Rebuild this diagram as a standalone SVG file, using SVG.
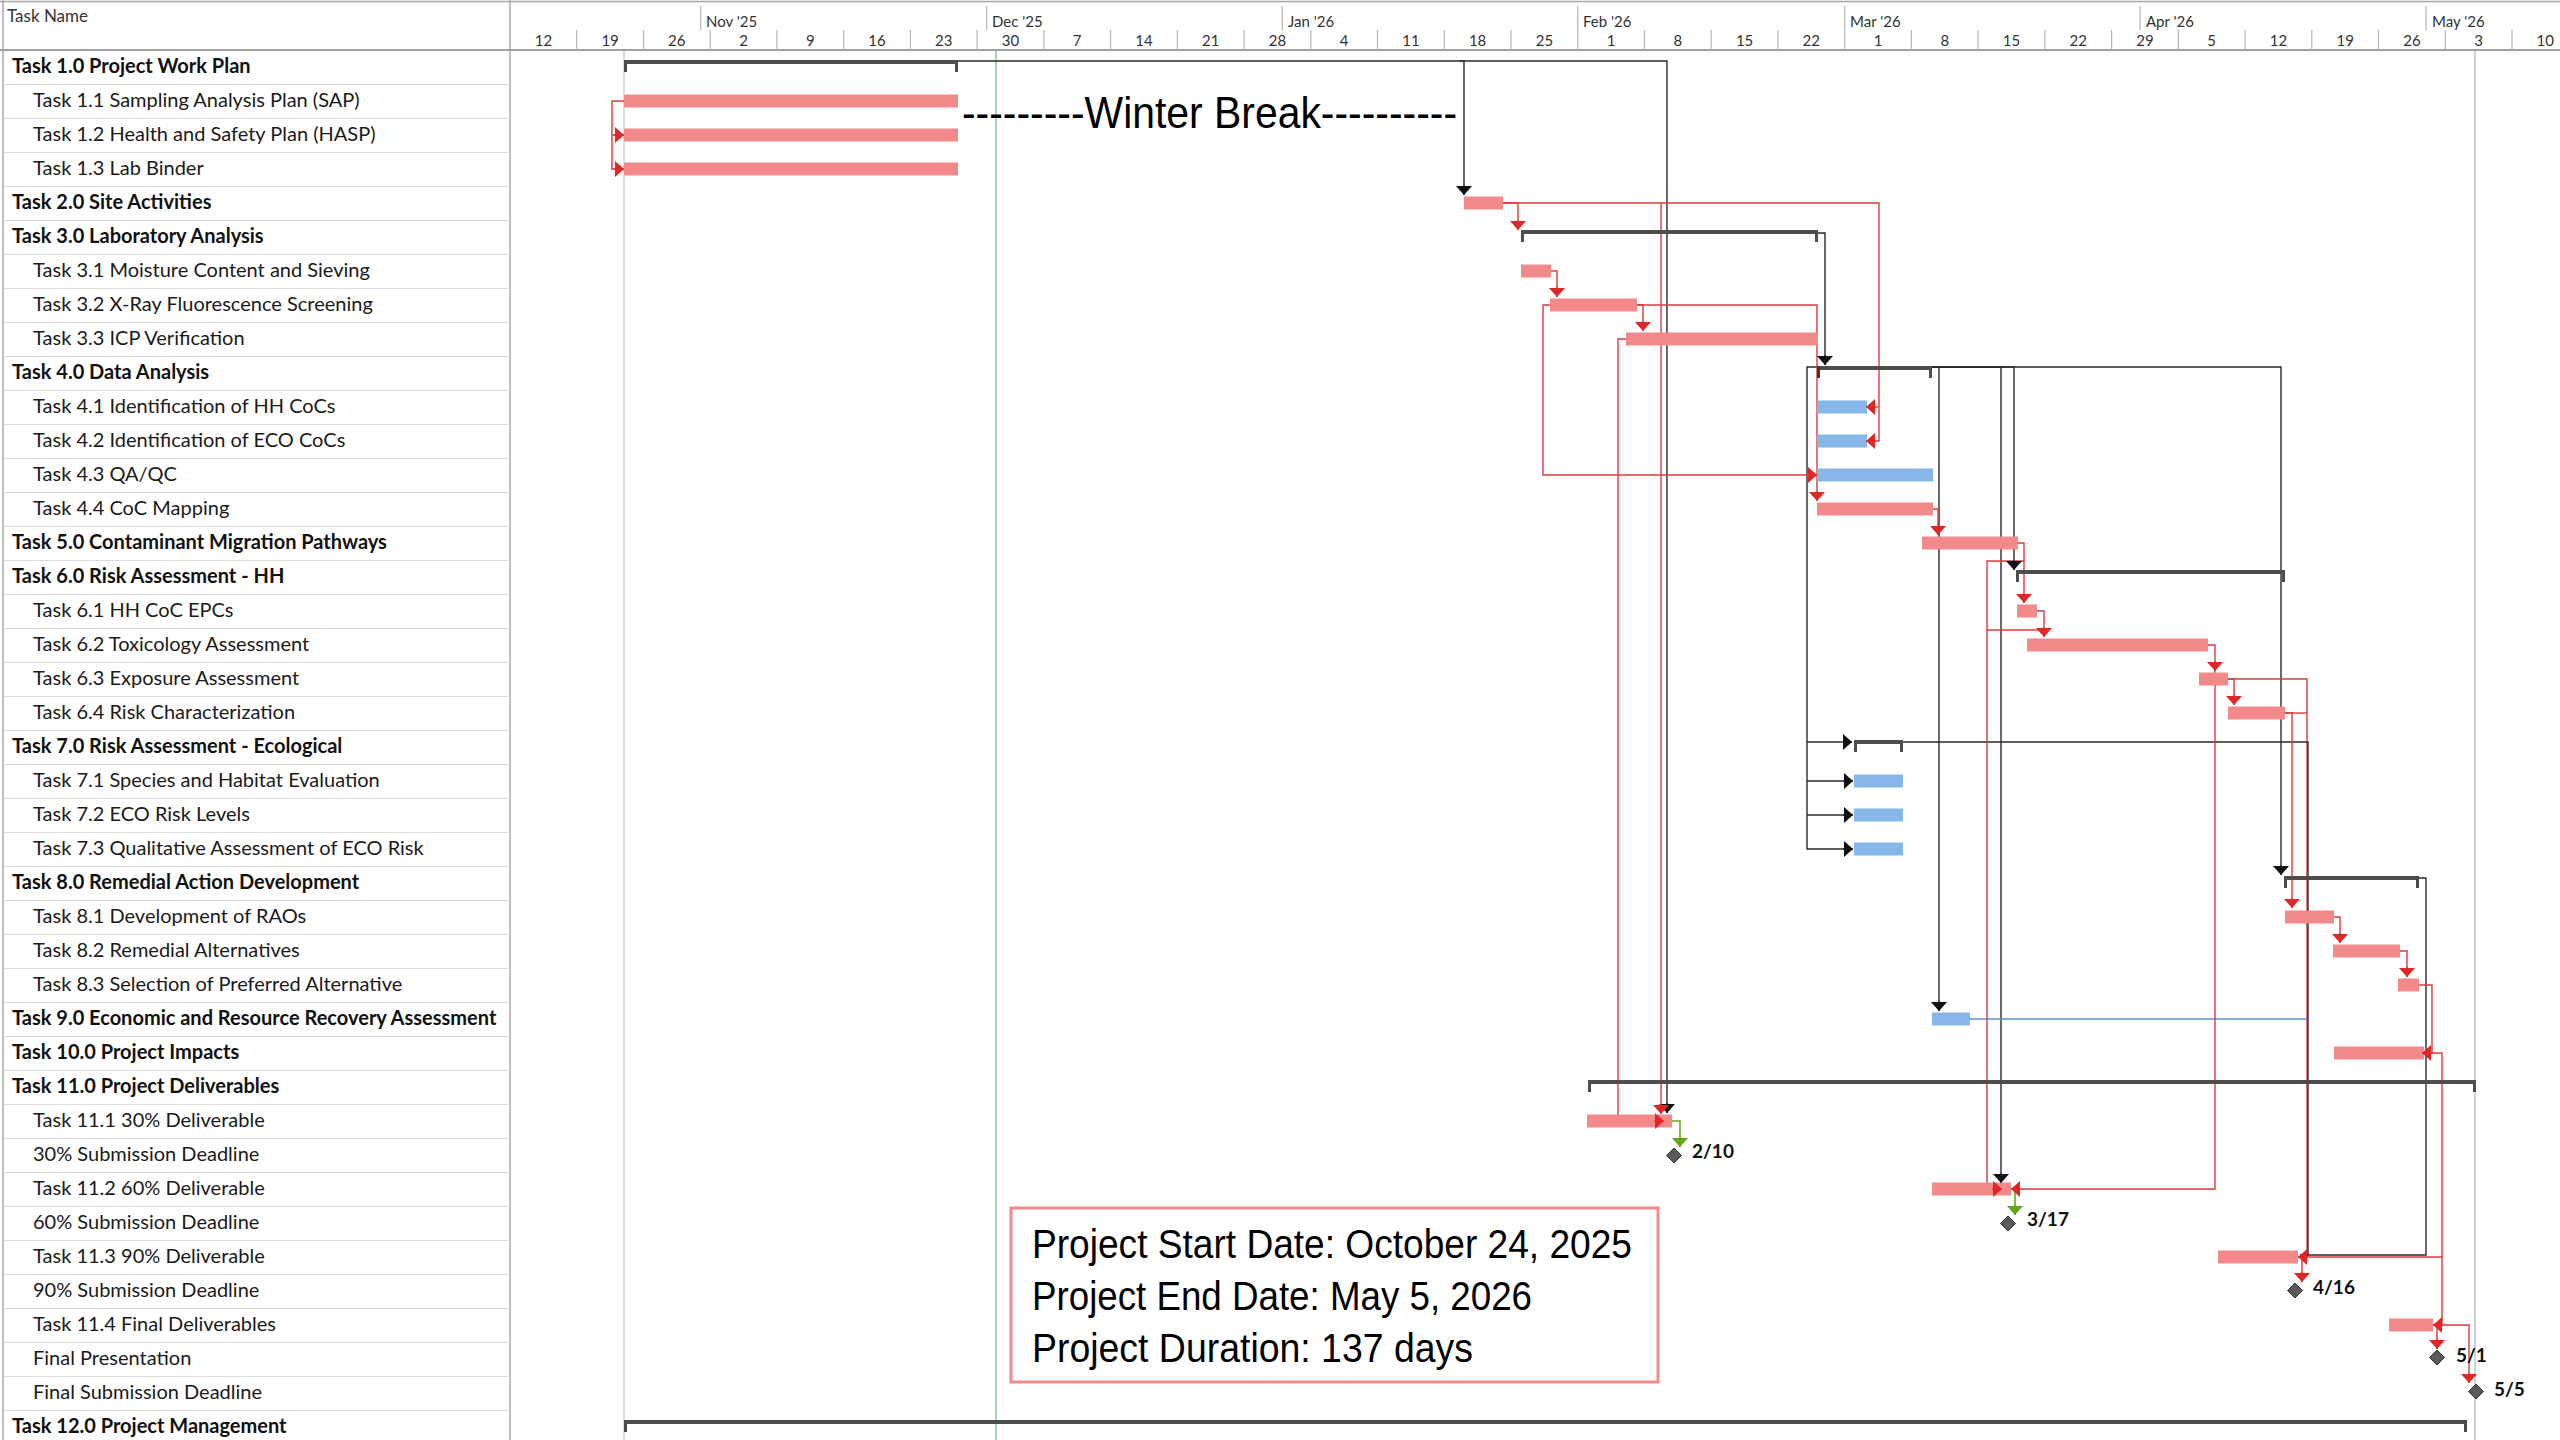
<svg xmlns="http://www.w3.org/2000/svg" width="2560" height="1440" viewBox="0 0 2560 1440">
<style>
.tn{font-family:Lato,"Noto Sans","Liberation Sans",sans-serif;font-size:20px;fill:#1a1a1a}
.tb{font-family:Lato,"Noto Sans","Liberation Sans",sans-serif;font-size:20px;font-weight:bold;fill:#111}
.hd{font-family:Lato,"Noto Sans","Liberation Sans",sans-serif;font-size:15px;fill:#333}
.th{font-family:Lato,"Noto Sans","Liberation Sans",sans-serif;font-size:17px;fill:#333}
.wk{font-family:Lato,"Noto Sans","Liberation Sans",sans-serif;font-size:15px;fill:#333;text-anchor:middle}
.ml{font-family:Lato,"Noto Sans","Liberation Sans",sans-serif;font-size:19px;font-weight:bold;fill:#111}
.big{font-family:"Liberation Sans",Arial,sans-serif;fill:#000}
.red{fill:#f28a8c}
.blue{fill:#87b6e8}
.sum{fill:#4d4d4d}
.dia{fill:#5a5a5a;stroke:#333;stroke-width:1}
.row{stroke:#dadada;stroke-width:1.2}
.tick{stroke:#b5b5b5;stroke-width:1.2}
.lr{stroke:#d83c3c;stroke-width:1.4;fill:none}
.lk{stroke:#2b2b2b;stroke-width:1.4;fill:none}
.lb{stroke:#5d8fd0;stroke-width:1.4;fill:none}
.lg{stroke:#6aaa1e;stroke-width:1.6;fill:none}
.ar{marker-end:url(#mR)}
.ak{marker-end:url(#mK)}
.ag{marker-end:url(#mG)}
</style>
<defs>
<marker id="mR" viewBox="0 0 10 10" refX="10" refY="5" markerWidth="9" markerHeight="16" markerUnits="userSpaceOnUse" orient="auto" preserveAspectRatio="none"><path d="M0,0 L10,5 L0,10 z" fill="#e02626"/></marker>
<marker id="mK" viewBox="0 0 10 10" refX="10" refY="5" markerWidth="9" markerHeight="16" markerUnits="userSpaceOnUse" orient="auto" preserveAspectRatio="none"><path d="M0,0 L10,5 L0,10 z" fill="#111"/></marker>
<marker id="mG" viewBox="0 0 10 10" refX="10" refY="5" markerWidth="9" markerHeight="16" markerUnits="userSpaceOnUse" orient="auto" preserveAspectRatio="none"><path d="M0,0 L10,5 L0,10 z" fill="#5fa816"/></marker>
</defs>
<rect x="0" y="0" width="2560" height="1440" fill="#fff"/>

<g id="table-frame">
<line x1="0" y1="1.5" x2="2560" y2="1.5" stroke="#a8a8a8" stroke-width="1.5"/>
<line x1="3" y1="0" x2="3" y2="1440" stroke="#a8a8a8" stroke-width="1.5"/>
<line x1="510" y1="0" x2="510" y2="1440" stroke="#a8a8a8" stroke-width="1.5"/>
<line x1="0" y1="50" x2="2560" y2="50" stroke="#a0a0a0" stroke-width="2"/>
<text class="th" x="7" y="22">Task Name</text>
<g id="row-lines">
<line class="row" x1="3" y1="84.5" x2="510" y2="84.5"/><line class="row" x1="3" y1="118.5" x2="510" y2="118.5"/><line class="row" x1="3" y1="152.5" x2="510" y2="152.5"/><line class="row" x1="3" y1="186.5" x2="510" y2="186.5"/><line class="row" x1="3" y1="220.5" x2="510" y2="220.5"/><line class="row" x1="3" y1="254.5" x2="510" y2="254.5"/><line class="row" x1="3" y1="288.5" x2="510" y2="288.5"/><line class="row" x1="3" y1="322.5" x2="510" y2="322.5"/><line class="row" x1="3" y1="356.5" x2="510" y2="356.5"/><line class="row" x1="3" y1="390.5" x2="510" y2="390.5"/><line class="row" x1="3" y1="424.5" x2="510" y2="424.5"/><line class="row" x1="3" y1="458.5" x2="510" y2="458.5"/><line class="row" x1="3" y1="492.5" x2="510" y2="492.5"/><line class="row" x1="3" y1="526.5" x2="510" y2="526.5"/><line class="row" x1="3" y1="560.5" x2="510" y2="560.5"/><line class="row" x1="3" y1="594.5" x2="510" y2="594.5"/><line class="row" x1="3" y1="628.5" x2="510" y2="628.5"/><line class="row" x1="3" y1="662.5" x2="510" y2="662.5"/><line class="row" x1="3" y1="696.5" x2="510" y2="696.5"/><line class="row" x1="3" y1="730.5" x2="510" y2="730.5"/><line class="row" x1="3" y1="764.5" x2="510" y2="764.5"/><line class="row" x1="3" y1="798.5" x2="510" y2="798.5"/><line class="row" x1="3" y1="832.5" x2="510" y2="832.5"/><line class="row" x1="3" y1="866.5" x2="510" y2="866.5"/><line class="row" x1="3" y1="900.5" x2="510" y2="900.5"/><line class="row" x1="3" y1="934.5" x2="510" y2="934.5"/><line class="row" x1="3" y1="968.5" x2="510" y2="968.5"/><line class="row" x1="3" y1="1002.5" x2="510" y2="1002.5"/><line class="row" x1="3" y1="1036.5" x2="510" y2="1036.5"/><line class="row" x1="3" y1="1070.5" x2="510" y2="1070.5"/><line class="row" x1="3" y1="1104.5" x2="510" y2="1104.5"/><line class="row" x1="3" y1="1138.5" x2="510" y2="1138.5"/><line class="row" x1="3" y1="1172.5" x2="510" y2="1172.5"/><line class="row" x1="3" y1="1206.5" x2="510" y2="1206.5"/><line class="row" x1="3" y1="1240.5" x2="510" y2="1240.5"/><line class="row" x1="3" y1="1274.5" x2="510" y2="1274.5"/><line class="row" x1="3" y1="1308.5" x2="510" y2="1308.5"/><line class="row" x1="3" y1="1342.5" x2="510" y2="1342.5"/><line class="row" x1="3" y1="1376.5" x2="510" y2="1376.5"/><line class="row" x1="3" y1="1410.5" x2="510" y2="1410.5"/>
</g>
</g>

<g id="timescale">
<g id="month-ticks">
<line class="tick" x1="700.7" y1="6" x2="700.7" y2="30"/><line class="tick" x1="986.7" y1="6" x2="986.7" y2="30"/><line class="tick" x1="1282.2" y1="6" x2="1282.2" y2="30"/><line class="tick" x1="1577.7" y1="6" x2="1577.7" y2="30"/><line class="tick" x1="1844.7" y1="6" x2="1844.7" y2="30"/><line class="tick" x1="2140.1" y1="6" x2="2140.1" y2="30"/><line class="tick" x1="2426.1" y1="6" x2="2426.1" y2="30"/>
</g>
<text class="hd" x="706" y="27">Nov '25</text>
<text class="hd" x="992" y="27">Dec '25</text>
<text class="hd" x="1288" y="27">Jan '26</text>
<text class="hd" x="1583" y="27">Feb '26</text>
<text class="hd" x="1850" y="27">Mar '26</text>
<text class="hd" x="2146" y="27">Apr '26</text>
<text class="hd" x="2432" y="27">May '26</text>
<g id="week-ticks">
<line class="tick" x1="576.7" y1="30" x2="576.7" y2="50"/><line class="tick" x1="643.5" y1="30" x2="643.5" y2="50"/><line class="tick" x1="710.2" y1="30" x2="710.2" y2="50"/><line class="tick" x1="776.9" y1="30" x2="776.9" y2="50"/><line class="tick" x1="843.7" y1="30" x2="843.7" y2="50"/><line class="tick" x1="910.4" y1="30" x2="910.4" y2="50"/><line class="tick" x1="977.1" y1="30" x2="977.1" y2="50"/><line class="tick" x1="1043.9" y1="30" x2="1043.9" y2="50"/><line class="tick" x1="1110.6" y1="30" x2="1110.6" y2="50"/><line class="tick" x1="1177.3" y1="30" x2="1177.3" y2="50"/><line class="tick" x1="1244.1" y1="30" x2="1244.1" y2="50"/><line class="tick" x1="1310.8" y1="30" x2="1310.8" y2="50"/><line class="tick" x1="1377.5" y1="30" x2="1377.5" y2="50"/><line class="tick" x1="1444.3" y1="30" x2="1444.3" y2="50"/><line class="tick" x1="1511" y1="30" x2="1511" y2="50"/><line class="tick" x1="1577.7" y1="30" x2="1577.7" y2="50"/><line class="tick" x1="1644.5" y1="30" x2="1644.5" y2="50"/><line class="tick" x1="1711.2" y1="30" x2="1711.2" y2="50"/><line class="tick" x1="1777.9" y1="30" x2="1777.9" y2="50"/><line class="tick" x1="1844.7" y1="30" x2="1844.7" y2="50"/><line class="tick" x1="1911.4" y1="30" x2="1911.4" y2="50"/><line class="tick" x1="1978.1" y1="30" x2="1978.1" y2="50"/><line class="tick" x1="2044.9" y1="30" x2="2044.9" y2="50"/><line class="tick" x1="2111.6" y1="30" x2="2111.6" y2="50"/><line class="tick" x1="2178.3" y1="30" x2="2178.3" y2="50"/><line class="tick" x1="2245.1" y1="30" x2="2245.1" y2="50"/><line class="tick" x1="2311.8" y1="30" x2="2311.8" y2="50"/><line class="tick" x1="2378.5" y1="30" x2="2378.5" y2="50"/><line class="tick" x1="2445.3" y1="30" x2="2445.3" y2="50"/><line class="tick" x1="2512" y1="30" x2="2512" y2="50"/>
</g>
<g id="week-labels">
<text class="wk" x="543.4" y="46">12</text><text class="wk" x="610.1" y="46">19</text><text class="wk" x="676.8" y="46">26</text><text class="wk" x="743.6" y="46">2</text><text class="wk" x="810.3" y="46">9</text><text class="wk" x="877" y="46">16</text><text class="wk" x="943.8" y="46">23</text><text class="wk" x="1010.5" y="46">30</text><text class="wk" x="1077.2" y="46">7</text><text class="wk" x="1144" y="46">14</text><text class="wk" x="1210.7" y="46">21</text><text class="wk" x="1277.4" y="46">28</text><text class="wk" x="1344.2" y="46">4</text><text class="wk" x="1410.9" y="46">11</text><text class="wk" x="1477.6" y="46">18</text><text class="wk" x="1544.4" y="46">25</text><text class="wk" x="1611.1" y="46">1</text><text class="wk" x="1677.8" y="46">8</text><text class="wk" x="1744.6" y="46">15</text><text class="wk" x="1811.3" y="46">22</text><text class="wk" x="1878" y="46">1</text><text class="wk" x="1944.8" y="46">8</text><text class="wk" x="2011.5" y="46">15</text><text class="wk" x="2078.2" y="46">22</text><text class="wk" x="2145" y="46">29</text><text class="wk" x="2211.7" y="46">5</text><text class="wk" x="2278.4" y="46">12</text><text class="wk" x="2345.2" y="46">19</text><text class="wk" x="2411.9" y="46">26</text><text class="wk" x="2478.6" y="46">3</text><text class="wk" x="2545.3" y="46">10</text>
</g>
</g>

<g id="date-lines">
<line x1="624" y1="51" x2="624" y2="1440" stroke="#c9c9c9" stroke-width="1.3"/>
<line x1="996" y1="51" x2="996" y2="1440" stroke="#8cc58c" stroke-width="1.5"/>
<line x1="2475" y1="51" x2="2475" y2="1440" stroke="#b9b9b9" stroke-width="1.3"/>
</g>

<text id="winter-break" class="big" x="962" y="128" font-size="44" textLength="495" lengthAdjust="spacingAndGlyphs">---------Winter Break----------</text>

<g id="connectors">
<path class="lr" d="M1661,203 V1113"/>
<path class="lk" d="M958,61 H1464 V195"/>
<path class="lk" d="M1460,61 H1667 V1113"/>
<path class="lk" d="M1818,233 H1825 V365"/>
<path class="lk" d="M1817,367 H1807 V849 H1853"/>
<path class="lk" d="M1807,742 H1852"/>
<path class="lk" d="M1807,781 H1853"/>
<path class="lk" d="M1807,815 H1853"/>
<path class="lk" d="M1932,367 H1939 V1011"/>
<path class="lk" d="M1932,367 H2001 V1183"/>
<path class="lk" d="M1932,367 H2014 V570"/>
<path class="lk" d="M1932,367 H2281 V875"/>
<path class="lr" d="M2228,679 H2307 V1257"/>
<path class="lr" d="M2285,713 H2307"/>
<path class="lb" d="M1970,1019 H2307"/>
<path class="lk" d="M1903,742 H2308 V1255 H2300"/>
<path class="lk" d="M2419,878 H2426 V1255 H2308"/>
<path class="lr" d="M624,101 H612 V169 H624"/>
<path class="lr" d="M612,135 H624"/>
<path class="lr" d="M1503,203 H1518 V230"/>
<path class="lr" d="M1503,203 H1879 V441 H1866"/>
<path class="lr" d="M1879,407 H1866"/>
<path class="lr" d="M1551,271 H1557 V297"/>
<path class="lr" d="M1637,305 H1643 V331"/>
<path class="lr" d="M1637,305 H1817 V501"/>
<path class="lr" d="M1550,305 H1543 V475 H1817"/>
<path class="lr" d="M1626,339 H1618 V1121 H1664"/>
<path class="lr" d="M1933,509 H1938 V535"/>
<path class="lr" d="M2018,543 H2024 V603"/>
<path class="lr" d="M2024,561 H1987 V1189 H2002"/>
<path class="lr" d="M2037,611 H2044 V637"/>
<path class="lr" d="M2044,630 H1987"/>
<path class="lr" d="M2208,645 H2215 V671"/>
<path class="lr" d="M2215,671 V1189 H2011"/>
<path class="lr" d="M2228,679 H2234 V705"/>
<path class="lr" d="M2285,713 H2292 V908"/>
<path class="lr" d="M2334,917 H2340 V943"/>
<path class="lr" d="M2400,951 H2407 V977"/>
<path class="lr" d="M2419,985 H2432 V1053 H2424"/>
<path class="lr" d="M2424,1053 H2442 V1325 H2433"/>
<path class="lr" d="M2442,1257 H2298"/>
<path class="lr" d="M2298,1257 H2302 V1282"/>
<path class="lr" d="M2433,1325 H2437 V1349"/>
<path class="lr" d="M2437,1325 H2469 V1383"/>
<path class="lg" d="M1672,1121 H1680 V1147"/>
<path class="lg" d="M2011,1189 H2015 V1215"/>
</g>

<g id="task-1-0"><text class="tb" x="12" y="73">Task 1.0 Project Work Plan</text><rect class="sum" x="624" y="60" width="334" height="4"/><rect class="sum" x="624" y="60" width="3" height="12"/><rect class="sum" x="955" y="60" width="3" height="12"/></g>
<g id="task-1-1"><text class="tn" x="33" y="107">Task 1.1 Sampling Analysis Plan (SAP)</text><rect class="red" x="624" y="94.5" width="334" height="13"/></g>
<g id="task-1-2"><text class="tn" x="33" y="141">Task 1.2 Health and Safety Plan (HASP)</text><rect class="red" x="624" y="128.5" width="334" height="13"/></g>
<g id="task-1-3"><text class="tn" x="33" y="175">Task 1.3 Lab Binder</text><rect class="red" x="624" y="162.5" width="334" height="13"/></g>
<g id="task-2-0"><text class="tb" x="12" y="209">Task 2.0 Site Activities</text><rect class="red" x="1464" y="196.5" width="39" height="13"/></g>
<g id="task-3-0"><text class="tb" x="12" y="243">Task 3.0 Laboratory Analysis</text><rect class="sum" x="1521" y="230" width="297" height="4"/><rect class="sum" x="1521" y="230" width="3" height="12"/><rect class="sum" x="1815" y="230" width="3" height="12"/></g>
<g id="task-3-1"><text class="tn" x="33" y="277">Task 3.1 Moisture Content and Sieving</text><rect class="red" x="1521" y="264.5" width="30" height="13"/></g>
<g id="task-3-2"><text class="tn" x="33" y="311">Task 3.2 X-Ray Fluorescence Screening</text><rect class="red" x="1550" y="298.5" width="87" height="13"/></g>
<g id="task-3-3"><text class="tn" x="33" y="345">Task 3.3 ICP Verification</text><rect class="red" x="1626" y="332.5" width="192" height="13"/></g>
<g id="task-4-0"><text class="tb" x="12" y="379">Task 4.0 Data Analysis</text><rect class="sum" x="1817" y="366" width="115" height="4"/><rect fill="#5a2a2a" x="1817" y="366" width="3" height="12"/><rect class="sum" x="1929" y="366" width="3" height="12"/></g>
<g id="task-4-1"><text class="tn" x="33" y="413">Task 4.1 Identification of HH CoCs</text><rect class="blue" x="1817" y="400.5" width="50" height="13"/></g>
<g id="task-4-2"><text class="tn" x="33" y="447">Task 4.2 Identification of ECO CoCs</text><rect class="blue" x="1817" y="434.5" width="50" height="13"/></g>
<g id="task-4-3"><text class="tn" x="33" y="481">Task 4.3 QA/QC</text><rect class="blue" x="1817" y="468.5" width="116" height="13"/></g>
<g id="task-4-4"><text class="tn" x="33" y="515">Task 4.4 CoC Mapping</text><rect class="red" x="1817" y="502.5" width="116" height="13"/></g>
<g id="task-5-0"><text class="tb" x="12" y="549">Task 5.0 Contaminant Migration Pathways</text><rect class="red" x="1922" y="536.5" width="96" height="13"/></g>
<g id="task-6-0"><text class="tb" x="12" y="583">Task 6.0 Risk Assessment - HH</text><rect class="sum" x="2016" y="570" width="269" height="4"/><rect class="sum" x="2016" y="570" width="3" height="12"/><rect class="sum" x="2282" y="570" width="3" height="12"/></g>
<g id="task-6-1"><text class="tn" x="33" y="617">Task 6.1 HH CoC EPCs</text><rect class="red" x="2017" y="604.5" width="20" height="13"/></g>
<g id="task-6-2"><text class="tn" x="33" y="651">Task 6.2 Toxicology Assessment</text><rect class="red" x="2027" y="638.5" width="181" height="13"/></g>
<g id="task-6-3"><text class="tn" x="33" y="685">Task 6.3 Exposure Assessment</text><rect class="red" x="2199" y="672.5" width="29" height="13"/></g>
<g id="task-6-4"><text class="tn" x="33" y="719">Task 6.4 Risk Characterization</text><rect class="red" x="2228" y="706.5" width="57" height="13"/></g>
<g id="task-7-0"><text class="tb" x="12" y="753">Task 7.0 Risk Assessment - Ecological</text><rect class="sum" x="1854" y="740" width="49" height="4"/><rect class="sum" x="1854" y="740" width="3" height="12"/><rect class="sum" x="1900" y="740" width="3" height="12"/></g>
<g id="task-7-1"><text class="tn" x="33" y="787">Task 7.1 Species and Habitat Evaluation</text><rect class="blue" x="1854" y="774.5" width="49" height="13"/></g>
<g id="task-7-2"><text class="tn" x="33" y="821">Task 7.2 ECO Risk Levels</text><rect class="blue" x="1854" y="808.5" width="49" height="13"/></g>
<g id="task-7-3"><text class="tn" x="33" y="855">Task 7.3 Qualitative Assessment of ECO Risk</text><rect class="blue" x="1854" y="842.5" width="49" height="13"/></g>
<g id="task-8-0"><text class="tb" x="12" y="889">Task 8.0 Remedial Action Development</text><rect class="sum" x="2284" y="876" width="135" height="4"/><rect class="sum" x="2284" y="876" width="3" height="12"/><rect class="sum" x="2416" y="876" width="3" height="12"/></g>
<g id="task-8-1"><text class="tn" x="33" y="923">Task 8.1 Development of RAOs</text><rect class="red" x="2285" y="910.5" width="49" height="13"/></g>
<g id="task-8-2"><text class="tn" x="33" y="957">Task 8.2 Remedial Alternatives</text><rect class="red" x="2333" y="944.5" width="67" height="13"/></g>
<g id="task-8-3"><text class="tn" x="33" y="991">Task 8.3 Selection of Preferred Alternative</text><rect class="red" x="2398" y="978.5" width="21" height="13"/></g>
<g id="task-9-0"><text class="tb" x="12" y="1025">Task 9.0 Economic and Resource Recovery Assessment</text><rect class="blue" x="1932" y="1012.5" width="38" height="13"/></g>
<g id="task-10-0"><text class="tb" x="12" y="1059">Task 10.0 Project Impacts</text><rect class="red" x="2334" y="1046.5" width="90" height="13"/></g>
<g id="task-11-0"><text class="tb" x="12" y="1093">Task 11.0 Project Deliverables</text><rect class="sum" x="1588" y="1080" width="888" height="4"/><rect class="sum" x="1588" y="1080" width="3" height="12"/><rect class="sum" x="2473" y="1080" width="3" height="12"/></g>
<g id="task-11-1"><text class="tn" x="33" y="1127">Task 11.1 30% Deliverable</text><rect class="red" x="1587" y="1114.5" width="85" height="13"/></g>
<g id="ms-30"><text class="tn" x="33" y="1161">30% Submission Deadline</text><path class="dia" d="M1674,1148 L1681.5,1155.5 L1674,1163 L1666.5,1155.5 z"/><text class="ml" x="1692" y="1158">2/10</text></g>
<g id="task-11-2"><text class="tn" x="33" y="1195">Task 11.2 60% Deliverable</text><rect class="red" x="1932" y="1182.5" width="79" height="13"/></g>
<g id="ms-60"><text class="tn" x="33" y="1229">60% Submission Deadline</text><path class="dia" d="M2008,1216 L2015.5,1223.5 L2008,1231 L2000.5,1223.5 z"/><text class="ml" x="2027" y="1226">3/17</text></g>
<g id="task-11-3"><text class="tn" x="33" y="1263">Task 11.3 90% Deliverable</text><rect class="red" x="2218" y="1250.5" width="80" height="13"/></g>
<g id="ms-90"><text class="tn" x="33" y="1297">90% Submission Deadline</text><path class="dia" d="M2295,1283 L2302.5,1290.5 L2295,1298 L2287.5,1290.5 z"/><text class="ml" x="2313" y="1294">4/16</text></g>
<g id="task-11-4"><text class="tn" x="33" y="1331">Task 11.4 Final Deliverables</text><rect class="red" x="2389" y="1318.5" width="44" height="13"/></g>
<g id="ms-final-pres"><text class="tn" x="33" y="1365">Final Presentation</text><path class="dia" d="M2437,1350 L2444.5,1357.5 L2437,1365 L2429.5,1357.5 z"/><text class="ml" x="2456" y="1362">5/1</text></g>
<g id="ms-final-sub"><text class="tn" x="33" y="1399">Final Submission Deadline</text><path class="dia" d="M2476,1384 L2483.5,1391.5 L2476,1399 L2468.5,1391.5 z"/><text class="ml" x="2494" y="1396">5/5</text></g>
<g id="task-12-0"><text class="tb" x="12" y="1433">Task 12.0 Project Management</text><rect class="sum" x="624" y="1420" width="1843" height="4"/><rect class="sum" x="624" y="1420" width="3" height="12"/><rect class="sum" x="2464" y="1420" width="3" height="12"/></g>

<g id="arrowheads">
<path class="lk ak" d="M1464,185 V195"/>
<path class="lk ak" d="M1667,1103 V1113"/>
<path class="lk ak" d="M1825,355 V365"/>
<path class="lk ak" d="M1843,742 H1852"/>
<path class="lk ak" d="M1843,781 H1853"/>
<path class="lk ak" d="M1843,815 H1853"/>
<path class="lk ak" d="M1843,849 H1853"/>
<path class="lk ak" d="M1939,1001 V1011"/>
<path class="lk ak" d="M2001,1173 V1183"/>
<path class="lk ak" d="M2014,560 V570"/>
<path class="lk ak" d="M2281,865 V875"/>
<path class="lr ar" d="M614,169 H624"/>
<path class="lr ar" d="M614,135 H624"/>
<path class="lr ar" d="M1518,220 V230"/>
<path class="lr ar" d="M1876,441 H1866"/>
<path class="lr ar" d="M1876,407 H1866"/>
<path class="lr ar" d="M1661,1104 V1114"/>
<path class="lr ar" d="M1557,287 V297"/>
<path class="lr ar" d="M1643,321 V331"/>
<path class="lr ar" d="M1817,491 V501"/>
<path class="lr ar" d="M1807,475 H1817"/>
<path class="lr ar" d="M1654,1121 H1664"/>
<path class="lr ar" d="M1938,525 V535"/>
<path class="lr ar" d="M2024,593 V603"/>
<path class="lr ar" d="M1992,1189 H2002"/>
<path class="lr ar" d="M2044,627 V637"/>
<path class="lr ar" d="M2215,661 V671"/>
<path class="lr ar" d="M2021,1189 H2011"/>
<path class="lr ar" d="M2234,695 V705"/>
<path class="lr ar" d="M2292,898 V908"/>
<path class="lr ar" d="M2340,933 V943"/>
<path class="lr ar" d="M2407,967 V977"/>
<path class="lr ar" d="M2432,1053 H2422"/>
<path class="lr ar" d="M2443,1325 H2433"/>
<path class="lr ar" d="M2308,1257 H2298"/>
<path class="lr ar" d="M2302,1272 V1282"/>
<path class="lr ar" d="M2437,1339 V1349"/>
<path class="lr ar" d="M2469,1373 V1383"/>
<path class="lg ag" d="M1680,1137 V1147"/>
<path class="lg ag" d="M2015,1205 V1215"/>
</g>

<g id="project-info">
<rect x="1011" y="1208" width="647" height="174" fill="#fff" stroke="#f28a8c" stroke-width="3"/>
<text class="big" x="1032" y="1258" font-size="40" textLength="600" lengthAdjust="spacingAndGlyphs">Project Start Date: October 24, 2025</text>
<text class="big" x="1032" y="1310" font-size="40" textLength="500" lengthAdjust="spacingAndGlyphs">Project End Date: May 5, 2026</text>
<text class="big" x="1032" y="1362" font-size="40" textLength="441" lengthAdjust="spacingAndGlyphs">Project Duration: 137 days</text>
</g>
</svg>
